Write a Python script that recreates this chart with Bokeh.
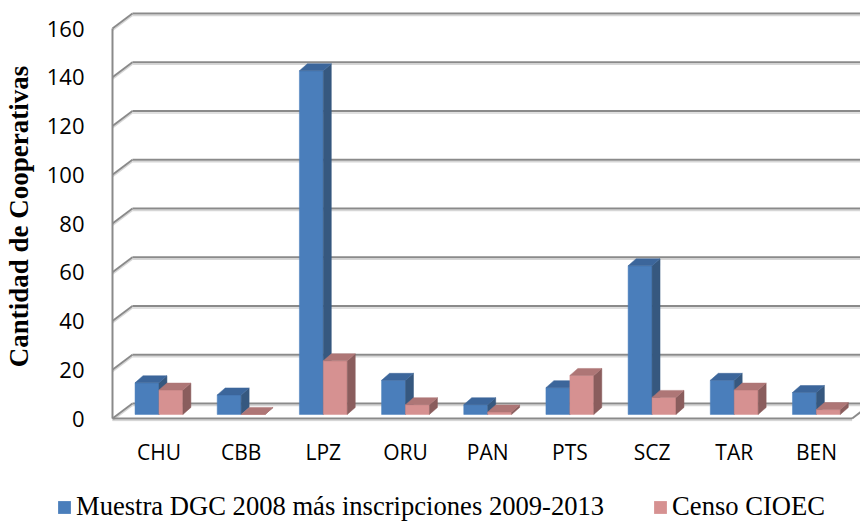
from bokeh.plotting import figure
from bokeh.layouts import column
from bokeh.models import (FixedTicker, CustomJSTickFormatter, Legend, LegendItem,
                          Range1d)
from bokeh.embed import file_html
from bokeh.resources import INLINE

# ---------------- data ----------------
categories = ["CHU", "CBB", "LPZ", "ORU", "PAN", "PTS", "SCZ", "TAR", "BEN"]
muestra = [13, 8, 141, 14, 4, 11, 61, 14, 9]
censo = [10, 0, 22, 4, 1, 16, 7, 10, 2]
series_names = ["Muestra DGC 2008 más inscripciones 2009-2013", "Censo CIOEC"]
y_ticks = [0, 20, 40, 60, 80, 100, 120, 140, 160]
y_title = "Cantidad de Cooperativas"

# ---------------- geometry / style ----------------
PX_CAT = 82.4          # pixels per category slot
PX_VAL = 2.4375        # pixels per value unit
WALL_DX = 20 / PX_CAT  # depth offset of back wall (category units)
WALL_DY = 15 / PX_VAL  # depth offset of back wall (value units)
BAR_F = 0.27           # depth fraction of bar front face
BAR_W = 24 / PX_CAT
BAR_DX = 8 / PX_CAT
BAR_DY = 7 / PX_VAL
SHADOW = 2 / PX_VAL

N = len(categories)
YMAX = y_ticks[-1]

W = 860
H_MAIN, H_LEG = 470, 53
BL, BT = 108, 11
FH = 410
BB = H_MAIN - BT - FH
frame_w = W - BL
x0 = -2 / PX_CAT
y0 = -3 / PX_VAL

p = figure(width=W, height=H_MAIN, output_backend="svg", toolbar_location=None,
           x_range=Range1d(x0, x0 + frame_w / PX_CAT),
           y_range=Range1d(y0, y0 + FH / PX_VAL),
           min_border_left=BL, min_border_right=0, min_border_top=BT,
           min_border_bottom=BB)
p.frame_align = False
p.outline_line_color = None
p.xgrid.visible = False
p.ygrid.visible = False
p.background_fill_color = "white"
p.border_fill_color = "white"

GRID = "#8a8a8a"
SHAD = "#d6d6d6"

# back wall + side wall gridlines
bx0 = [WALL_DX for v in y_ticks]
bx1 = [N + WALL_DX + 1 for v in y_ticks]
by = [v + WALL_DY for v in y_ticks]
sx0 = [0 for v in y_ticks]
sx1 = [WALL_DX for v in y_ticks]
sy0 = [v for v in y_ticks]
sy1 = [v + WALL_DY for v in y_ticks]

# shadows
p.segment(x0=bx0, y0=[b - SHADOW for b in by], x1=bx1, y1=[b - SHADOW for b in by],
          line_color=SHAD, line_width=1.5)
p.segment(x0=sx0, y0=[s - SHADOW for s in sy0], x1=sx1, y1=[s - SHADOW for s in sy1],
          line_color=SHAD, line_width=1.5)
p.segment(x0=[0], y0=[-SHADOW], x1=[N], y1=[-SHADOW], line_color=SHAD, line_width=1.5)

p.segment(x0=bx0, y0=by, x1=bx1, y1=by, line_color=GRID, line_width=2)
p.segment(x0=sx0, y0=sy0, x1=sx1, y1=sy1, line_color=GRID, line_width=2)
# front-left edge and floor
p.segment(x0=[0, 0, N], y0=[0, 0, 0], x1=[0, N, N + WALL_DX], y1=[YMAX, 0, WALL_DY],
          line_color=GRID, line_width=2)

# ---------------- 3D bars ----------------
def bar_faces(values, side):
    fx, fy, tx, ty, sx, sy = [], [], [], [], [], []
    base = BAR_F * WALL_DY
    for i, v in enumerate(values):
        cx = i + 0.5 + BAR_F * WALL_DX
        a = cx - BAR_W if side == 0 else cx
        b = a + BAR_W
        t = base + v
        fx.append([a, b, b, a]); fy.append([base, base, t, t])
        tx.append([a, b, b + BAR_DX, a + BAR_DX]); ty.append([t, t, t + BAR_DY, t + BAR_DY])
        sx.append([b, b + BAR_DX, b + BAR_DX, b]); sy.append([base, base + BAR_DY, t + BAR_DY, t])
    return fx, fy, tx, ty, sx, sy

colors = [
    dict(front="#4a7ebb", top="#3c669b", side="#36587f"),
    dict(front="#d69191", top="#ae7676", side="#8a5d5d"),
]
for k, vals in enumerate([muestra, censo]):
    fx, fy, tx, ty, sx, sy = bar_faces(vals, k)
    c = colors[k]
    p.patches(xs=fx, ys=fy, fill_color=c["front"], line_color=c["front"], line_width=0.5)
    p.patches(xs=sx, ys=sy, fill_color=c["side"], line_color=c["side"], line_width=0.5)
    p.patches(xs=tx, ys=ty, fill_color=c["top"], line_color=c["top"], line_width=0.5)

# ---------------- axes ----------------
xticks = [i + 0.5 + BAR_F * WALL_DX for i in range(N)]
p.xaxis.ticker = FixedTicker(ticks=xticks, minor_ticks=[])
p.xaxis.formatter = CustomJSTickFormatter(args=dict(cats=categories),
                                          code="return cats[index] || '';")
p.xaxis.axis_line_color = None
p.xaxis.major_tick_line_color = None
p.xaxis.minor_tick_line_color = None
p.xaxis.major_tick_out = 0
p.xaxis.major_tick_in = 0
p.xaxis.major_label_standoff = 16
p.xaxis.major_label_text_font = "Open Sans"
p.xaxis.major_label_text_font_size = "21px"
p.xaxis.major_label_text_color = "black"

p.yaxis.ticker = FixedTicker(ticks=y_ticks, minor_ticks=[])
p.yaxis.axis_line_color = None
p.yaxis.major_tick_line_color = None
p.yaxis.minor_tick_line_color = None
p.yaxis.major_tick_out = 0
p.yaxis.major_tick_in = 0
p.yaxis.major_label_standoff = 26
p.yaxis.major_label_text_font = "Open Sans"
p.yaxis.major_label_text_font_size = "22px"
p.yaxis.major_label_text_color = "black"
p.yaxis.axis_label = y_title
p.yaxis.axis_label_text_font = "Liberation Serif"
p.yaxis.axis_label_text_font_style = "bold"
p.yaxis.axis_label_text_font_size = "27px"
p.yaxis.axis_label_text_color = "black"
p.yaxis.axis_label_standoff = 10

# ---------------- legend (separate strip below the chart) ----------------
pl = figure(width=W, height=H_LEG, output_backend="svg", toolbar_location=None,
            x_range=Range1d(0, 1), y_range=Range1d(0, 1),
            x_axis_location=None, y_axis_location=None,
            min_border_left=0, min_border_right=0, min_border_top=0, min_border_bottom=0)
pl.frame_align = False
pl.outline_line_color = None
pl.xgrid.visible = False
pl.ygrid.visible = False
pl.border_fill_color = "white"
leg_renderers = []
for k in range(2):
    # zero-size proxy glyphs that only carry the legend swatch colour
    leg_renderers.append(pl.quad(left=[0], right=[0], top=[0], bottom=[0],
                                 fill_color=colors[k]["front"], line_color=None))
legend = Legend(items=[LegendItem(label=series_names[k], renderers=[leg_renderers[k]])
                       for k in range(2)],
                orientation="horizontal", location=(56, 1),
                glyph_width=16, glyph_height=16, label_standoff=4, spacing=48,
                padding=0, margin=0, border_line_color=None,
                background_fill_alpha=0,
                label_text_font="Liberation Serif", label_text_font_size="26.6px",
                label_text_color="black")
pl.add_layout(legend)

layout = column(p, pl, spacing=0)
open("out.html", "w").write(file_html(layout, INLINE))
